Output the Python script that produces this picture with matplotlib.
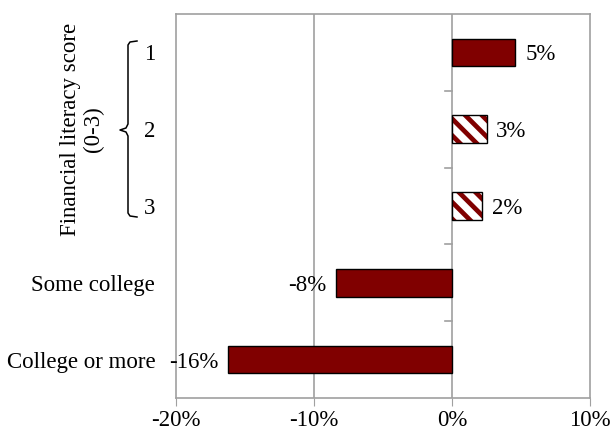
import matplotlib
matplotlib.use("Agg")
import matplotlib.pyplot as plt
from matplotlib.lines import Line2D

categories = ["1", "2", "3", "Some college", "College or more"]
values = [4.6, 2.5, 2.2, -8.4, -16.25]
labels = ["5%", "3%", "2%", "-8%", "-16%"]
hatched = [False, True, True, False, False]
xticks = [-20, -10, 0, 10]
xticklabels = ["-20%", "-10%", "0%", "10%"]

plt.rcParams["font.family"] = ["Liberation Serif", "DejaVu Serif"]
plt.rcParams["hatch.linewidth"] = 3.4

W, H = 611, 432
FS = 16.5
fig = plt.figure(figsize=(W / 100, H / 100), dpi=100)
ax = fig.add_axes([176 / W, 1 - 398 / H, (590 - 176) / W, (398 - 14) / H])

maroon = "#800000"
grid = "#a0a0a0"
ypos = list(range(len(categories)))
bh = 0.36
for y, v, lab, hat in zip(ypos, values, labels, hatched):
    if hat:
        ax.barh(y, v, height=bh, color="white", edgecolor=maroon, hatch="\\\\", linewidth=0, zorder=3)
        ax.barh(y, v, height=bh, color="none", edgecolor="black", linewidth=1.0, zorder=4)
    else:
        ax.barh(y, v, height=bh, color=maroon, edgecolor="black", linewidth=1.0, zorder=3)
    if v >= 0:
        ax.text(v + 0.7, y, lab, ha="left", va="center_baseline", fontsize=FS)
    else:
        ax.text(v - 0.7, y, lab, ha="right", va="center_baseline", fontsize=FS)

ax.set_xlim(-20, 10)
ax.set_ylim(len(categories) - 0.5, -0.5)
ax.set_xticks(xticks)
ax.set_xticklabels(xticklabels, fontsize=FS)
ax.set_yticks(ypos)
ax.set_yticklabels(categories, fontsize=FS)
ax.tick_params(axis="y", length=0, pad=15)
ax.tick_params(axis="x", length=6, color=grid, pad=3)
for s in ax.spines.values():
    s.set_color(grid)
    s.set_linewidth(1.2)
for xt in xticks[1:-1]:
    ax.axvline(xt, color=grid, linewidth=1.2, zorder=1)
# category boundary ticks on the zero axis
for b in range(1, len(categories)):
    ax.plot([-0.5, 0], [b - 0.5, b - 0.5], color=grid, linewidth=1.2, zorder=2)

# bracket for financial literacy group
def px(x, y):
    return (x / W, 1 - y / H)

pts = [(137, 41), (130, 42), (128, 45), (128, 124), (126, 128), (120, 130),
       (126, 132), (128, 136), (128, 213), (130, 216), (137, 217)]
xs = [px(*p)[0] for p in pts]
ys = [px(*p)[1] for p in pts]
fig.add_artist(Line2D(xs, ys, color="black", linewidth=1.1, transform=fig.transFigure))

fig.text(82 / W, 1 - 129 / H, "Financial literacy score\n(0-3)", rotation=90,
         ha="center", va="center", fontsize=FS, linespacing=1.1, multialignment="center")

fig.savefig("out.png", dpi=100)
